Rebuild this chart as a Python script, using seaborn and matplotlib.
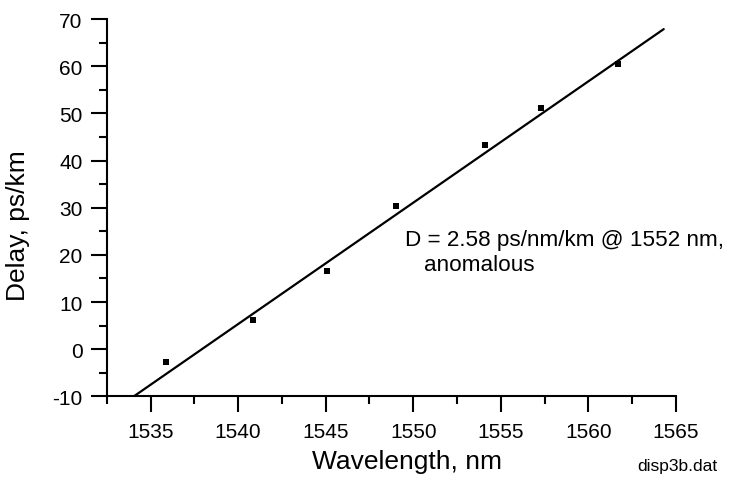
import matplotlib
matplotlib.use("Agg")
import matplotlib.pyplot as plt
import seaborn as sns
import pandas as pd
from matplotlib.ticker import MultipleLocator

# data
wavelength = [1535.9, 1540.85, 1545.1, 1549.0, 1554.1, 1557.3, 1561.7]
delay = [-2.8, 6.2, 16.6, 30.4, 43.4, 51.1, 60.5]
fit_x = [1534.05, 1564.3]
fit_y = [-10.0, 67.9]
x_ticks = [1535, 1540, 1545, 1550, 1555, 1560, 1565]
y_ticks = [-10, 0, 10, 20, 30, 40, 50, 60, 70]

sns.set_style("ticks")
plt.rcParams['font.family'] = ['Liberation Sans', 'DejaVu Sans']
plt.rcParams['text.color'] = 'black'
plt.rcParams['axes.labelcolor'] = 'black'
plt.rcParams['xtick.color'] = 'black'
plt.rcParams['ytick.color'] = 'black'
plt.rcParams['axes.unicode_minus'] = False

pts = pd.DataFrame({"Wavelength": wavelength, "Delay": delay})
fit = pd.DataFrame({"Wavelength": fit_x, "Delay": fit_y})

fig = plt.figure(figsize=(7.29, 4.81), dpi=100)
ax = fig.add_axes([0.1464, 0.174, 0.7809, 0.784])

sns.lineplot(data=fit, x="Wavelength", y="Delay", ax=ax, color="black", linewidth=1.6)
sns.scatterplot(data=pts, x="Wavelength", y="Delay", ax=ax, color="black", s=20,
                marker="s", edgecolor="black", linewidth=0)

ax.set_xlim(1532.5, 1565)
ax.set_ylim(-10, 70)
ax.set_xticks(x_ticks)
ax.set_yticks(y_ticks)
ax.xaxis.set_minor_locator(MultipleLocator(2.5))
ax.yaxis.set_minor_locator(MultipleLocator(5))
ax.tick_params(axis="both", which="major", length=11.5, width=1.5, labelsize=15,
               color="black", labelcolor="black")
ax.tick_params(axis="both", which="minor", length=6, width=1.5, color="black")
ax.tick_params(axis="x", which="major", pad=7)
ax.tick_params(axis="y", which="major", pad=6)

for s in ["top", "right"]:
    ax.spines[s].set_visible(False)
for s in ["left", "bottom"]:
    ax.spines[s].set_linewidth(1.5)
    ax.spines[s].set_color("black")

ax.set_xlabel("Wavelength, nm", fontsize=19, color="black")
ax.xaxis.set_label_coords(0.5275, -0.14, transform=ax.transAxes)
ax.xaxis.label.set_va("top")
ax.set_ylabel("Delay, ps/km", fontsize=19, labelpad=8, color="black")
ax.yaxis.set_label_coords(-0.135, 0.455, transform=ax.transAxes)

ax.text(1549.5, 23.3, "D = 2.58 ps/nm/km @ 1552 nm,", fontsize=16.2, va="center", ha="left",
        color="black")
ax.text(1550.6, 17.9, "anomalous", fontsize=16.2, va="center", ha="left", color="black")

fig.text(717 / 729, 1 - 466 / 481, "disp3b.dat", fontsize=12.5, ha="right", va="center",
         color="black")

fig.savefig("out.png", dpi=100)
